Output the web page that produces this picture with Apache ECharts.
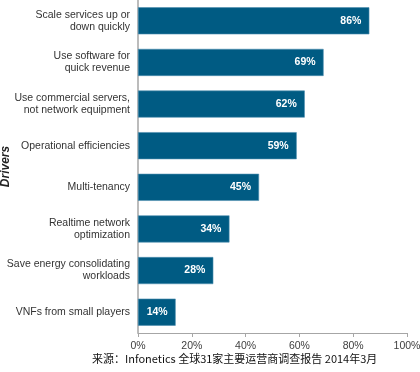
<!DOCTYPE html>
<html><head><meta charset="utf-8">
<script src="https://cdn.jsdelivr.net/npm/echarts@6/dist/echarts.min.js"></script>
<style>html,body{margin:0;padding:0;background:#fff}#c{width:420px;height:372px}</style>
</head><body><div id="c"></div>
<script>
const categories = [
  "Scale services up or\ndown quickly",
  "Use software for\nquick revenue",
  "Use commercial servers,\nnot network equipment",
  "Operational efficiencies",
  "Multi-tenancy",
  "Realtime network\noptimization",
  "Save energy consolidating\nworkloads",
  "VNFs from small players"
];
const values = [86, 69, 62, 59, 45, 34, 28, 14];
const xTicks = [0, 20, 40, 60, 80, 100];
const axisName = "Drivers";
const sourceText = "来源：Infonetics 全球31家主要运营商调查报告 2014年3月";

const chart = echarts.init(document.getElementById('c'));
chart.setOption({
  animation: false,
  grid: {left: 138, right: 13, top: 0, bottom: 39, containLabel: false, outerBoundsMode: 'none'},
  xAxis: {
    type: 'value', min: 0, max: 100, interval: 20,
    axisLine: {show: true, lineStyle: {color: '#a6a6a6'}},
    axisTick: {show: true, length: 4, lineStyle: {color: '#a6a6a6'}},
    splitLine: {show: false},
    axisLabel: {formatter: v => xTicks.includes(v) ? v + '%' : '', color: '#404040', fontSize: 10.5, fontFamily: 'Liberation Sans', margin: 8}
  },
  yAxis: {
    type: 'category', data: categories, inverse: true,
    axisLine: {show: true, lineStyle: {color: '#a6a6a6', width: 1.5}},
    axisTick: {show: false},
    axisLabel: {color: '#333', fontSize: 10.5, fontFamily: 'Liberation Sans', margin: 8, lineHeight: 12, align: 'right'},
    name: axisName, nameLocation: 'middle', nameGap: 126, nameRotate: 90, nameMoveOverlap: false,
    nameTextStyle: {fontWeight: 'bold', fontStyle: 'italic', fontSize: 12, color: '#222', fontFamily: 'Liberation Sans'}
  },
  series: [{
    type: 'bar', data: values, barCategoryGap: '35%',
    itemStyle: {color: '#005B83', borderColor: '#4d8fb0', borderWidth: 0.6},
    label: {show: true, position: 'insideRight', formatter: '{c}%', color: '#fff', fontWeight: 'bold', fontSize: 10.5, fontFamily: 'Liberation Sans', distance: 8}
  }],
  graphic: [{
    type: 'text', left: 92, top: 353,
    style: {text: sourceText, fontSize: 11, fill: '#111', fontFamily: 'Noto Sans CJK SC'}
  }]
});
</script></body></html>
